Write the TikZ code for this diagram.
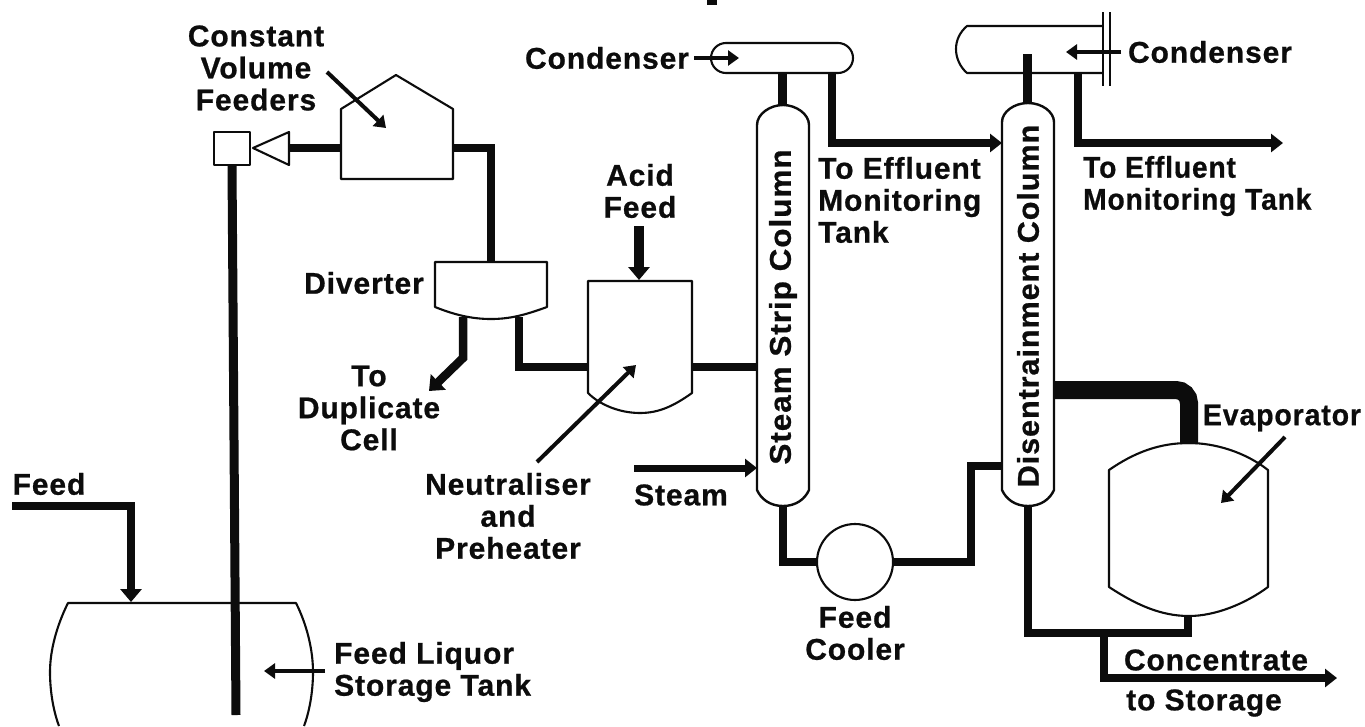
\documentclass[tikz,border=0pt]{standalone}
\usepackage{fontspec}
\newfontfamily\heavy[FakeBold=0.7,LetterSpace=3]{Liberation Sans Bold}
\usetikzlibrary{arrows.meta}
\definecolor{ink}{RGB}{12,12,12}
\tikzset{
  px/.style={x=1pt,y=-1pt},
  vessel/.style={draw=ink,line width=2.1pt,line join=round},
  pipe/.style={draw=ink,line width=8.5pt,line join=miter},
  bigtip/.style={-{Triangle[length=13pt,width=21pt]}},
  midtip/.style={-{Triangle[length=12pt,width=18pt]}},
  pointer/.style={draw=ink,line width=4pt,-{Triangle[length=11pt,width=15pt]}},
  lbl/.style={font=\fontsize{30}{32}\heavy,text=ink,inner sep=0pt,align=center},
  lblleft/.style={lbl,align=left,anchor=west},
  collbl/.style={lbl,rotate=90}
}
\begin{document}
\begin{tikzpicture}[px]
\useasboundingbox[fill=white] (0,0) rectangle (1365,726);

% title fragment (cut by the picture's upper edge)
\fill[ink] (707,0) rectangle (717,5);

% equipment
\node[vessel,minimum width=36pt,minimum height=33pt,inner sep=0pt] (feeder) at (232,148.5) {};
\coordinate (trtip) at (253,148); \coordinate (trtop) at (289,132); \coordinate (trbot) at (289,165);
\draw[vessel] (trtip) -- (trtop) -- (trbot) -- cycle;
\coordinate (hopL) at (341,148); \coordinate (hopR) at (453,148);
\draw[vessel] (341,109) -- (396,75) -- (453,109) -- (453,179) -- (341,179) -- cycle;

\draw[vessel] (435,262) -- (547,262) -- (547,307) .. controls (525,315) and (510,319) .. (491,319) .. controls (472,319) and (455,315) .. (435,307) -- cycle;
\draw[vessel] (588,281) -- (692,281) -- (692,393) .. controls (675,405) and (660,413) .. (640,413) .. controls (620,413) and (600,405) .. (588,393) -- cycle;

\draw[vessel,line width=2.4pt] (757,125) .. controls (757,114) and (770,105) .. (783,105) .. controls (796,105) and (809,114) .. (809,125) -- (809,490) .. controls (805,499) and (796,506) .. (783,506) .. controls (770,506) and (761,499) .. (757,490) -- cycle;
\draw[vessel,line width=2.4pt] (1002,122) .. controls (1002,112) and (1014,103) .. (1028,103) .. controls (1042,103) and (1054,112) .. (1054,122) -- (1054,490) .. controls (1050,499) and (1041,506) .. (1028,506) .. controls (1015,506) and (1006,499) .. (1002,490) -- cycle;

\node[vessel,rounded corners=15pt,minimum width=142pt,minimum height=30pt,inner sep=0pt] (cond1) at (782,58) {};
\draw[vessel] (1103,26) -- (967,26) .. controls (960,32) and (956,40) .. (956,49) .. controls (956,58) and (960,67) .. (967,73) -- (1103,73);
\coordinate (plA1) at (1103,12); \coordinate (plA2) at (1103,86);
\coordinate (plB1) at (1110,12); \coordinate (plB2) at (1110,86);
\draw[vessel] (plA1) -- (plA2);
\draw[vessel] (plB1) -- (plB2);

\node[vessel,circle,minimum size=76pt,inner sep=0pt] (cooler) at (855,562) {};

\draw[vessel] (1109,470) .. controls (1135,452) and (1160,443) .. (1189,443) .. controls (1215,443) and (1245,452) .. (1268,470) -- (1268,587) .. controls (1245,604) and (1215,616) .. (1189,616) .. controls (1160,616) and (1135,604) .. (1109,587) -- cycle;

\draw[vessel] (50,672) .. controls (50,650) and (57,625) .. (68,603) -- (296,603) .. controls (307,625) and (313,650) .. (313,672) .. controls (313,690) and (310,710) .. (304,726);
\draw[vessel] (50,672) .. controls (50,690) and (53,710) .. (59,726);

% named pipe points
\coordinate (feedin) at (12,506);
\coordinate (feedcor) at (131,506);
\coordinate (tankin) at (131,602);
\coordinate (riserbot) at (236,715);
\coordinate (hopcor) at (491,148);
\coordinate (divin) at (491,262);
\coordinate (divL) at (463,317);
\coordinate (divLb) at (463,358);
\coordinate (dup) at (429,391);
\coordinate (divR) at (519,317);
\coordinate (divRb) at (519,367);
\coordinate (neuL) at (588,367);
\coordinate (neuR) at (692,367);
\coordinate (ssL) at (757,367);
\coordinate (acid) at (639,226);
\coordinate (acidin) at (639,280);
\coordinate (steam) at (634,468);
\coordinate (ssin) at (757,468);
\coordinate (ssbot) at (783,506);
\coordinate (sscor) at (783,562);
\coordinate (ssTop) at (782,105);
\coordinate (c1A) at (782,73);
\coordinate (c1B) at (832,73);
\coordinate (c1Bc) at (832,143);
\coordinate (dcin) at (1002,143);
\coordinate (cor1) at (971,562);
\coordinate (cor2) at (971,466);
\coordinate (dcL) at (1002,466);
\coordinate (dcTop) at (1027,103);
\coordinate (c2A) at (1027,54);
\coordinate (c2B) at (1078,73);
\coordinate (c2Bc) at (1078,143);
\coordinate (eff2) at (1283,143);
\coordinate (dcR) at (1054,390);
\coordinate (evcor) at (1189,390);
\coordinate (evTop) at (1189,444);
\coordinate (dcbot) at (1028,506);
\coordinate (dccor) at (1028,633);
\coordinate (evcor2) at (1188,633);
\coordinate (evBot) at (1188,616);
\coordinate (br) at (1104,633);
\coordinate (brc) at (1104,678);
\coordinate (conc) at (1337,678);

% pipes
\draw[pipe,line width=9pt] (feeder.south) -- (riserbot);
\draw[pipe] (trtop |- hopL) -- (hopL);
\draw[pipe] (hopR) -- (hopcor) -- (divin);
\draw[pipe,bigtip] (feedin) -- (feedcor) -- (tankin);
\draw[pipe,bigtip] (divL) -- (divLb) -- (dup);
\draw[pipe] (divR) -- (divRb) -- (neuL);
\draw[pipe] (neuR) -- (ssL);
\draw[pipe,line width=9.5pt,bigtip] (acid) -- (acidin);
\draw[pipe,line width=7pt,midtip] (steam) -- (ssin);
\draw[pipe] (ssbot) -- (sscor) -- (cooler.west);
\draw[pipe] (cooler.east) -- (cor1) -- (cor2) -- (dcL);
\draw[pipe,line width=9pt] (c1A) -- (ssTop);
\draw[pipe,midtip] (c1B) -- (c1Bc) -- (dcin);
\draw[pipe,line width=9pt] (c2A) -- (dcTop);
\draw[pipe,midtip] (c2B) -- (c2Bc) -- (eff2);
\draw[pipe,line width=18pt,rounded corners=13pt] (dcR) -- (evcor) -- (evTop);
\draw[pipe] (dcbot) -- (dccor) -- (evcor2) -- (evBot);
\draw[pipe,midtip] (br) -- (brc) -- (conc);

% labels
\node[lbl] (lconst) at (256,68) {Constant\\Volume\\Feeders};
\node[lbl] (ldiv) at (364,283) {Diverter};
\node[lbl] (ltodup) at (369,408) {To\\Duplicate\\Cell};
\node[lbl] (lacid) at (640,191) {Acid\\Feed};
\node[lbl] (lneut) at (508,516) {Neutraliser\\and\\Preheater};
\node[lbl] (lsteam) at (681,495) {Steam};
\node[lbl] (lfeed) at (49,484) {Feed};
\node[lblleft] (ltank) at (334,672) {Feed Liquor\\Storage Tank};
\node[lbl] (lcool) at (855,633) {Feed\\Cooler};
\node[lbl] (lc1) at (607,58) {Condenser};
\node[lbl] (lc2) at (1210,52) {Condenser};
\node[lblleft] (leff1) at (818,200) {To Effluent\\Monitoring\\Tank};
\node[lblleft,xscale=0.94] (leff2) at (1083,186) {To Effluent\\Monitoring Tank};
\node[lbl,xscale=0.95] (levap) at (1282,418) {Evaporator};
\node[lbl] (lconc) at (1216,660) {Concentrate};
\node[lbl] (lstor) at (1204,703) {to Storage};
\node[collbl,xscale=1.05] (lss) at (783,307) {Steam Strip Column};
\node[collbl,xscale=1.02] (lds) at (1028,306) {Disentrainment Column};

% pointer anchors
\coordinate (pconstS) at (327,72); \coordinate (pconstE) at (386,128);
\coordinate (pneutS) at (537,462); \coordinate (pneutE) at (636,365);
\coordinate (pevS) at (1285,437); \coordinate (pevE) at (1221,503);
\coordinate (ptankS) at (325,671); \coordinate (ptankE) at (264,671);
\coordinate (pc1S) at (694,58); \coordinate (pc1E) at (739,58);
\coordinate (pc2S) at (1121,52); \coordinate (pc2E) at (1066,52);

\draw[pointer] (pconstS) -- (pconstE);
\draw[pointer] (pneutS) -- (pneutE);
\draw[pointer] (pevS) -- (pevE);
\draw[pointer] (ptankS) -- (ptankE);
\draw[pointer] (pc1S) -- (pc1E);
\draw[pointer] (pc2S) -- (pc2E);
\end{tikzpicture}
\end{document}
